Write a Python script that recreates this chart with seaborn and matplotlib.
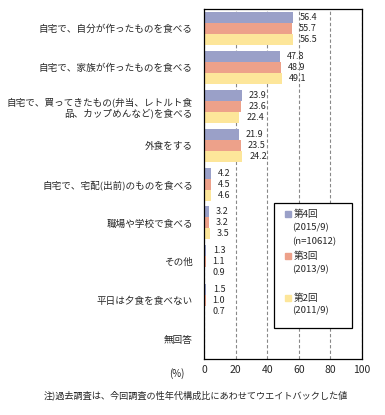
import numpy as np
import pandas as pd
import seaborn as sns
import matplotlib.pyplot as plt
from matplotlib.patches import Rectangle

# chart data
categories = [
    "自宅で、自分が作ったものを食べる",
    "自宅で、家族が作ったものを食べる",
    "自宅で、買ってきたもの(弁当、レトルト食\n品、カップめんなど)を食べる",
    "外食をする",
    "自宅で、宅配(出前)のものを食べる",
    "職場や学校で食べる",
    "その他",
    "平日は夕食を食べない",
    "無回答",
]
round4 = [56.4, 47.8, 23.9, 21.9, 4.2, 3.2, 1.3, 1.5, np.nan]
round3 = [55.7, 48.9, 23.6, 23.5, 4.5, 3.2, 1.1, 1.0, np.nan]
round2 = [56.5, 49.1, 22.4, 24.2, 4.6, 3.5, 0.9, 0.7, np.nan]
series = ["第4回", "第3回", "第2回"]
legend_lines = [["第4回", "(2015/9)", "(n=10612)"], ["第3回", "(2013/9)"], ["第2回", "(2011/9)"]]
colors = ["#9aa0c8", "#eda18a", "#fde69a"]
xticks = [0, 20, 40, 60, 80, 100]
note = "注)過去調査は、今回調査の性年代構成比にあわせてウエイトバックした値"

sns.set_style("white")
plt.rcParams['font.family'] = ['Noto Sans CJK JP', 'DejaVu Sans']

df = pd.DataFrame({
    "cat": categories * 3,
    "value": round4 + round3 + round2,
    "series": [s for s in series for _ in categories],
})

fig = plt.figure(figsize=(3.85, 4.15), dpi=100)
ax = fig.add_axes([0.530, 0.135, 0.410, 0.843])
ax.set_axisbelow(True)

sns.barplot(data=df, y="cat", x="value", hue="series", order=categories,
            hue_order=series, palette=colors, width=0.85, orient="h",
            saturation=1, legend=False, linewidth=0, ax=ax)

for cont in ax.containers:
    labels = ["" if np.isnan(v) else f"{v:.1f}" for v in cont.datavalues]
    ax.bar_label(cont, labels=labels, padding=5, fontsize=6.5)

ax.set_xlim(0, 100)
ax.set_ylim(len(categories) - 0.5, -0.5)
ax.set_xticks(xticks)
ax.set_xticklabels([str(t) for t in xticks], fontsize=7.5)
ax.set_yticks(range(len(categories)))
ax.set_yticklabels(categories, fontsize=6.9, linespacing=1.3)
ax.set_yticks(np.arange(0.5, len(categories) - 0.5), minor=True)
ax.tick_params(axis="y", which="major", length=0, pad=8)
ax.tick_params(axis="y", which="minor", length=3, width=0.8, direction="out", color="black")
ax.tick_params(axis="x", length=0, pad=4)
ax.set_xlabel("")
ax.set_ylabel("")

ax.xaxis.grid(True, color="#888888", linestyle=(0, (3, 2)), linewidth=0.8)
ax.yaxis.grid(False)

for sp in ax.spines.values():
    sp.set_color("black")
    sp.set_linewidth(0.9)

# legend box
ax.add_patch(Rectangle((0.443, 0.089), 0.494, 0.357, transform=ax.transAxes,
                       facecolor="white", edgecolor="black", linewidth=0.9, zorder=5))
rows = [[0.414, 0.374, 0.334], [0.294, 0.254], [0.174, 0.137]]
for lines, ys, c in zip(legend_lines, rows, colors):
    ax.plot(0.530, ys[0], marker="s", markersize=4, color=c, transform=ax.transAxes,
            zorder=6, clip_on=False)
    for txt, yy in zip(lines, ys):
        x0 = 0.565 if txt == lines[0] else 0.56
        ax.text(x0, yy, txt, transform=ax.transAxes, fontsize=6.9, va="center",
                ha="left", zorder=6)

fig.text(177 / 385, 1 - 374 / 415, "(%)", fontsize=7, ha="center", va="center")
fig.text(196 / 385, 1 - 395 / 415, note, fontsize=6.6, ha="center", va="center")

fig.savefig("out.png", dpi=100)
